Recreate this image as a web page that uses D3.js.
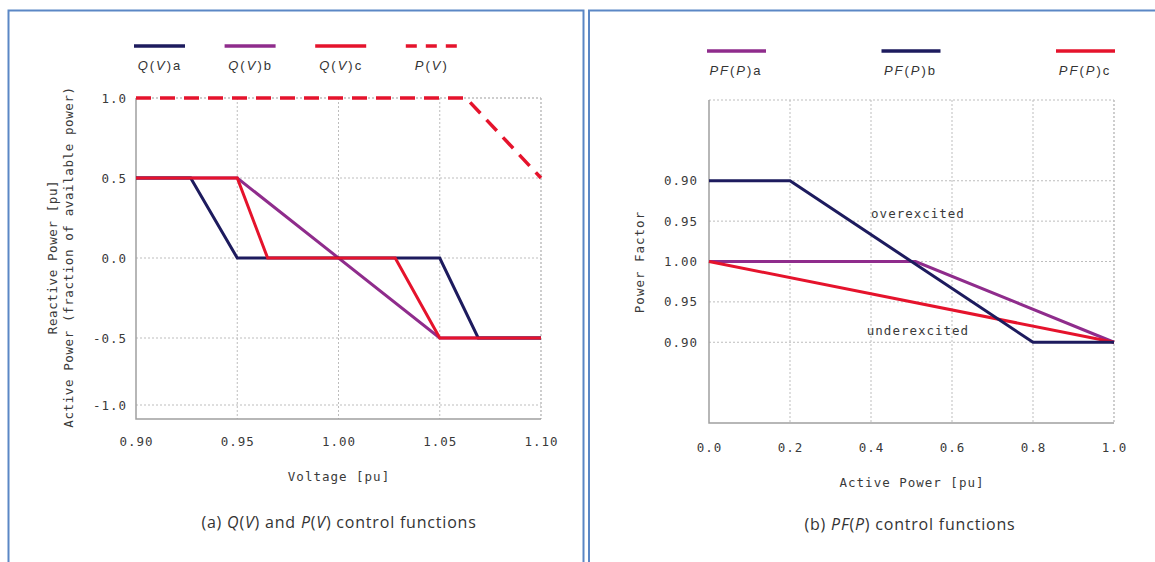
<!DOCTYPE html>
<html>
<head>
<meta charset="utf-8">
<script src="https://cdn.jsdelivr.net/npm/d3@7"></script>
<style>
  body { margin: 0; background: #fff; }
  .mono { font-family: "DejaVu Sans Mono", monospace; font-size: 12.5px; fill: #3a3a3a; letter-spacing: 1px; }
  .leg { font-family: "Liberation Sans", Arial, sans-serif; font-size: 13px; fill: #333; letter-spacing: 2px; }
  .cap { font-family: "Open Sans", sans-serif; font-size: 16px; fill: #333; letter-spacing: 0.8px; }
  .grid line { stroke: #bdbdbd; stroke-width: 1; stroke-dasharray: 2,2; }
</style>
</head>
<body>
<script>
// ---- data: left panel, Q(V) and P(V)
let voltTicks = [0.90, 0.95, 1.00, 1.05, 1.10];
let powerTicks = [-1.0, -0.5, 0.0, 0.5, 1.0];
let qva = [[0.90, 0.5], [0.927, 0.5], [0.95, 0], [1.05, 0], [1.069, -0.5], [1.10, -0.5]];
let qvb = [[0.90, 0.5], [0.95, 0.5], [1.05, -0.5], [1.10, -0.5]];
let qvc = [[0.90, 0.5], [0.95, 0.5], [0.965, 0], [1.028, 0], [1.05, -0.5], [1.10, -0.5]];
let pv = [[0.90, 1.0], [1.063, 1.0], [1.10, 0.5]];
let leftNames = ["a", "b", "c", ""];

// ---- data: right panel, PF(P)
// signed power factor: + overexcited, - underexcited, 0 = unity
let activeTicks = [0.0, 0.2, 0.4, 0.6, 0.8, 1.0];
let pfTicks = [-0.1, -0.05, 0, 0.05, 0.1];
let pfa = [[0, 0], [0.51, 0], [1.0, -0.1]];
let pfb = [[0, 0.1], [0.2, 0.1], [0.8, -0.1], [1.0, -0.1]];
let pfc = [[0, 0], [1.0, -0.1]];
let rightNames = ["a", "b", "c"];

let navy = "#1d1b5e", purple = "#8f2c8c", red = "#e5132c";

let svg = d3.select("body").append("svg")
    .attr("width", 1155)
    .attr("height", 562);

// panel frames
svg.append("rect").attr("x", 8.5).attr("y", 10.5).attr("width", 575).attr("height", 600)
    .attr("fill", "none").attr("stroke", "#5b87c5").attr("stroke-width", 2);
svg.append("rect").attr("x", 589).attr("y", 10.5).attr("width", 600).attr("height", 600)
    .attr("fill", "none").attr("stroke", "#5b87c5").attr("stroke-width", 2);

function frame(g, x0, x1, y0, y1, xs, xt, ys, yt) {
    let grid = g.append("g").attr("class", "grid");
    grid.selectAll(".v").data(xt.slice(1)).join("line").attr("class", "v")
        .attr("x1", d => xs(d)).attr("x2", d => xs(d)).attr("y1", y0).attr("y2", y1);
    grid.selectAll(".h").data(yt).join("line").attr("class", "h")
        .attr("x1", x0).attr("x2", x1).attr("y1", d => ys(d)).attr("y2", d => ys(d));
    grid.append("line").attr("x1", x0).attr("x2", x1).attr("y1", y0).attr("y2", y0);
    grid.append("line").attr("x1", x1).attr("x2", x1).attr("y1", y0).attr("y2", y1);
    g.append("path")
        .attr("d", `M${x0},${y0}V${y1}H${x1}`)
        .attr("fill", "none").attr("stroke", "#a0a0a0").attr("stroke-width", 1.5);
}

function styleAxis(a) {
    a.select(".domain").remove();
    a.selectAll("text").attr("class", "mono").attr("fill", null);
}

// ================= left panel
let xL = d3.scaleLinear().domain([0.9, 1.1]).range([136, 541]);
let yL = d3.scaleLinear().domain([-1.0, -0.5, 1.0]).range([405, 338, 98]);
let left = svg.append("g");
frame(left, 136, 541, 98, 419, xL, voltTicks, yL, powerTicks);

left.append("g").attr("transform", "translate(0,419)")
    .call(d3.axisBottom(xL).tickValues(voltTicks).tickSize(0).tickPadding(18).tickFormat(d3.format(".2f")))
    .call(styleAxis);
left.append("g").attr("transform", "translate(136,0)")
    .call(d3.axisLeft(yL).tickValues(powerTicks).tickSize(0).tickPadding(9)
        .tickFormat(d => d.toFixed(1)))
    .call(styleAxis);

let lineL = d3.line().x(d => xL(d[0])).y(d => yL(d[1]));
[[qvb, purple], [qva, navy], [qvc, red]].forEach(s => {
    left.append("path").attr("d", lineL(s[0]))
        .attr("fill", "none").attr("stroke", s[1]).attr("stroke-width", 3);
});
left.append("path").attr("d", lineL(pv))
    .attr("fill", "none").attr("stroke", red).attr("stroke-width", 3.5)
    .attr("stroke-dasharray", "15,9");

left.append("text").attr("class", "mono").attr("x", 339).attr("y", 481)
    .attr("text-anchor", "middle").text("Voltage [pu]");
left.append("text").attr("class", "mono").style("letter-spacing", "0.6px")
    .attr("transform", "translate(57,257) rotate(-90)")
    .attr("text-anchor", "middle").text("Reactive Power [pu]");
left.append("text").attr("class", "mono").style("letter-spacing", "0.6px")
    .attr("transform", "translate(73,257) rotate(-90)")
    .attr("text-anchor", "middle").text("Active Power (fraction of available power)");

// legend left
let legL = left.selectAll(".legL").data(leftNames).join("g")
    .attr("transform", (d, i) => `translate(${134 + i * 90.6},0)`);
legL.append("line").attr("x1", 0).attr("x2", 51).attr("y1", 46).attr("y2", 46)
    .attr("stroke", (d, i) => [navy, purple, red, red][i]).attr("stroke-width", 3.5)
    .attr("stroke-dasharray", (d, i) => i == 3 ? "11,9" : null);
let legLt = legL.append("text").attr("class", "leg").attr("x", 26).attr("y", 70)
    .attr("text-anchor", "middle");
legLt.append("tspan").style("font-style", "italic").text((d, i) => i == 3 ? "P" : "Q");
legLt.append("tspan").text("(");
legLt.append("tspan").style("font-style", "italic").text("V");
legLt.append("tspan").text(d => ")" + d);

// caption left
let capL = svg.append("text").attr("class", "cap").attr("x", 339).attr("y", 528).attr("text-anchor", "middle");
capL.append("tspan").text("(a) ");
capL.append("tspan").style("font-style", "italic").text("Q");
capL.append("tspan").text("(");
capL.append("tspan").style("font-style", "italic").text("V");
capL.append("tspan").text(") and ");
capL.append("tspan").style("font-style", "italic").text("P");
capL.append("tspan").text("(");
capL.append("tspan").style("font-style", "italic").text("V");
capL.append("tspan").text(") control functions");

// ================= right panel
let xR = d3.scaleLinear().domain([0, 1]).range([709, 1114]);
let yR = d3.scaleLinear().domain([-0.2, 0.2]).range([423, 100]);
let right = svg.append("g");
frame(right, 709, 1114, 100, 423, xR, activeTicks, yR, pfTicks);

right.append("g").attr("transform", "translate(0,423)")
    .call(d3.axisBottom(xR).tickValues(activeTicks).tickSize(0).tickPadding(20).tickFormat(d3.format(".1f")))
    .call(styleAxis);
right.append("g").attr("transform", "translate(709,0)")
    .call(d3.axisLeft(yR).tickValues(pfTicks).tickSize(0).tickPadding(11)
        .tickFormat(d => d3.format(".2f")(1 - Math.abs(d))))
    .call(styleAxis);

let lineR = d3.line().x(d => xR(d[0])).y(d => yR(d[1]));
[[pfa, purple], [pfc, red], [pfb, navy]].forEach(s => {
    right.append("path").attr("d", lineR(s[0]))
        .attr("fill", "none").attr("stroke", s[1]).attr("stroke-width", 3);
});

right.append("text").attr("class", "mono").attr("x", xR(0.516)).attr("y", yR(0.059) + 4)
    .attr("text-anchor", "middle").text("overexcited");
right.append("text").attr("class", "mono").attr("x", xR(0.516)).attr("y", yR(-0.086) + 4)
    .attr("text-anchor", "middle").text("underexcited");

right.append("text").attr("class", "mono").attr("x", 912).attr("y", 487)
    .attr("text-anchor", "middle").text("Active Power [pu]");
right.append("text").attr("class", "mono")
    .attr("transform", "translate(644,262) rotate(-90)")
    .attr("text-anchor", "middle").text("Power Factor");

// legend right
let legR = right.selectAll(".legR").data(rightNames).join("g")
    .attr("transform", (d, i) => `translate(${707 + i * 174.5},0)`);
legR.append("line").attr("x1", 0).attr("x2", 59).attr("y1", 51).attr("y2", 51)
    .attr("stroke", (d, i) => [purple, navy, red][i]).attr("stroke-width", 3.5);
let legRt = legR.append("text").attr("class", "leg").attr("x", 29).attr("y", 75)
    .attr("text-anchor", "middle");
legRt.append("tspan").style("font-style", "italic").text("PF");
legRt.append("tspan").text("(");
legRt.append("tspan").style("font-style", "italic").text("P");
legRt.append("tspan").text(d => ")" + d);

// caption right
let capR = svg.append("text").attr("class", "cap").attr("x", 910).attr("y", 530).attr("text-anchor", "middle");
capR.append("tspan").text("(b) ");
capR.append("tspan").style("font-style", "italic").text("PF");
capR.append("tspan").text("(");
capR.append("tspan").style("font-style", "italic").text("P");
capR.append("tspan").text(") control functions");
</script>
</body>
</html>
